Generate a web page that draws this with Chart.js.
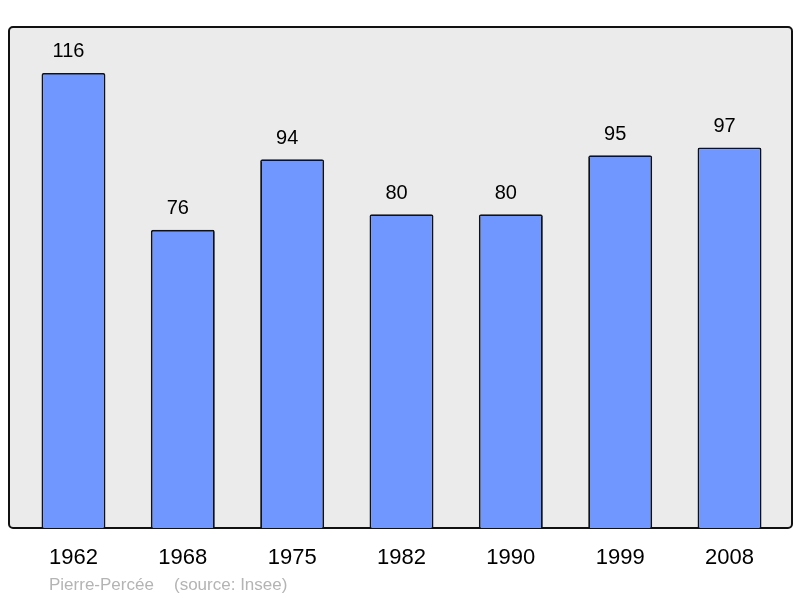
<!DOCTYPE html>
<html>
<head>
<meta charset="utf-8">
<script src="https://cdn.jsdelivr.net/npm/chart.js@4"></script>
<style>
  html, body { margin: 0; padding: 0; background: #ffffff; }
  #wrap { width: 800px; height: 598px; }
</style>
</head>
<body>
<div id="wrap"><canvas id="grafico" width="800" height="598"></canvas></div>
<script>
// données
const annees = ["1962", "1968", "1975", "1982", "1990", "1999", "2008"];
const population = [116, 76, 94, 80, 80, 95, 97];
const commune = "Pierre-Percée";
const source = "(source: Insee)";

// fond gris + cadre
const fondPlugin = {
    id: "fond",
    beforeDraw(chart) {
        const ctx = chart.ctx;
        const x = 9, y = 27, w = 783, h = 501, r = 4;
        ctx.save();
        ctx.beginPath();
        ctx.roundRect(x, y, w, h, r);
        ctx.fillStyle = "#ebebeb";
        ctx.fill();
        ctx.lineWidth = 2;
        ctx.strokeStyle = "#111";
        ctx.stroke();
        ctx.restore();
    },
    afterDraw(chart) {
        const ctx = chart.ctx;
        ctx.save();
        // valeurs au-dessus des barres
        ctx.font = "20px 'Liberation Sans', Arial, sans-serif";
        ctx.fillStyle = "#000";
        ctx.textAlign = "center";
        ctx.textBaseline = "middle";
        chart.getDatasetMeta(0).data.forEach((bar, i) => {
            ctx.fillText(population[i], bar.x - 5, bar.y - 21);
        });
        // pied de page
        ctx.font = "17px 'Liberation Sans', Arial, sans-serif";
        ctx.fillStyle = "#b4b4b4";
        ctx.textAlign = "left";
        ctx.fillText(commune, 49, 585);
        ctx.fillText(source, 174, 585);
        ctx.restore();
    }
};

new Chart(document.getElementById("grafico"), {
    type: "bar",
    data: {
        labels: annees,
        datasets: [{
            data: population,
            backgroundColor: "#7096ff",
            borderColor: "#111",
            borderWidth: 1.8,
            borderRadius: 2,
            borderSkipped: "bottom",
            barPercentage: 0.585,
            categoryPercentage: 1
        }]
    },
    options: {
        responsive: false,
        animation: false,
        layout: { padding: { left: 18.8, right: 15.8, top: 27, bottom: 9.6 } },
        plugins: {
            legend: { display: false },
            tooltip: { enabled: false }
        },
        scales: {
            x: {
                grid: { display: false, drawTicks: false },
                border: { display: false },
                ticks: {
                    padding: 17,
                    color: "#000",
                    font: { family: "'Liberation Sans', Arial, sans-serif", size: 22 }
                }
            },
            y: {
                display: false,
                min: 0,
                max: 127.7
            }
        }
    },
    plugins: [fondPlugin]
});
</script>
</body>
</html>
